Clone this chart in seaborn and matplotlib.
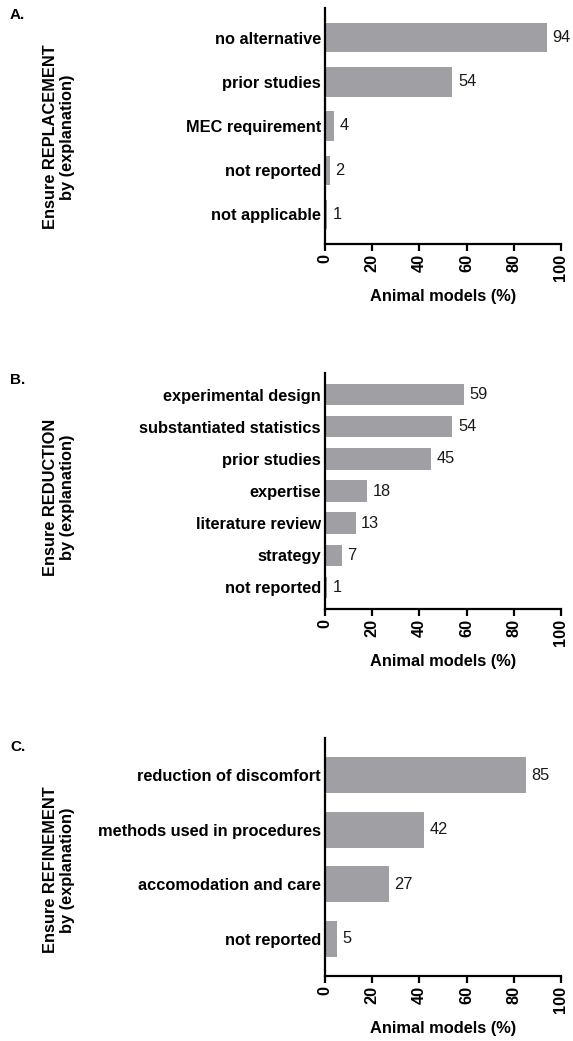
import matplotlib
matplotlib.use("Agg")
import matplotlib.pyplot as plt
import seaborn as sns
import pandas as pd

# ---- data ----
repl_cats = ["no alternative", "prior studies", "MEC requirement", "not reported", "not applicable"]
repl_vals = [94, 54, 4, 2, 1]

red_cats = ["experimental design", "substantiated statistics", "prior studies", "expertise",
            "literature review", "strategy", "not reported"]
red_vals = [59, 54, 45, 18, 13, 7, 1]

ref_cats = ["reduction of discomfort", "methods used in procedures", "accomodation and care", "not reported"]
ref_vals = [85, 42, 27, 5]

panel_letters = ["A.", "B.", "C."]
ylabels = ["Ensure REPLACEMENT\nby (explanation)",
           "Ensure REDUCTION\nby (explanation)",
           "Ensure REFINEMENT\nby (explanation)"]
xlabel = "Animal models (%)"
xticks = [0, 20, 40, 60, 80, 100]

sns.set_theme(style="ticks")
plt.rcParams["font.family"] = ["Liberation Sans", "DejaVu Sans"]
plt.rcParams.update({"text.color": "black", "axes.labelcolor": "black",
                     "xtick.color": "black", "ytick.color": "black"})

W, H = 573, 1041
fig = plt.figure(figsize=(W / 100, H / 100), dpi=100)

BAR = "#a0a0a4"
FS = 11.8

# axes pixel boxes: (top, bottom)
boxes = [(8, 244), (373, 609), (738, 976)]
label_y = [137, 497, 870]
letter_y = [15, 380, 747]
datasets = [(repl_cats, repl_vals), (red_cats, red_vals), (ref_cats, ref_vals)]

for i, ((cats, vals), (top, bot)) in enumerate(zip(datasets, boxes)):
    left, right = 325, 561
    ax = fig.add_axes([left / W, 1 - bot / H, (right - left) / W, (bot - top) / H])
    df = pd.DataFrame({"cat": cats, "val": vals})
    sns.barplot(data=df, x="val", y="cat", orient="h", color=BAR, saturation=1,
                width=0.66, ax=ax, edgecolor="none")
    n = len(cats)
    ax.set_ylim(n - 1 + 0.68, -0.68)
    ax.set_xlim(0, 100)
    ax.set_xticks(xticks)
    ax.set_xticklabels([str(t) for t in xticks], rotation=90, fontsize=FS, fontweight="bold")
    ax.set_yticks(range(n))
    ax.set_yticklabels(cats, fontsize=FS, fontweight="bold")
    ax.tick_params(axis="y", length=0, pad=3, labelcolor="black")
    ax.tick_params(axis="x", length=5, width=1.6, pad=2, direction="out", colors="black")
    for s in ["top", "right"]:
        ax.spines[s].set_visible(False)
    for s in ["left", "bottom"]:
        ax.spines[s].set_linewidth(1.6)
        ax.spines[s].set_color("black")
    ax.set_ylabel("")
    ax.set_xlabel(xlabel, fontsize=FS, fontweight="bold", labelpad=6, color="black")
    for c in ax.containers:
        ax.bar_label(c, labels=[str(v) for v in vals], padding=4, fontsize=FS, color="#1a1a1a")
    fig.text(59 / W, 1 - label_y[i] / H, ylabels[i], rotation=90, ha="center", va="center",
             fontsize=FS, fontweight="bold", multialignment="center", color="black")
    fig.text(10 / W, 1 - letter_y[i] / H, panel_letters[i], ha="left", va="center",
             fontsize=11, fontweight="bold", color="black")

fig.savefig("out.png", dpi=100, facecolor="white")
